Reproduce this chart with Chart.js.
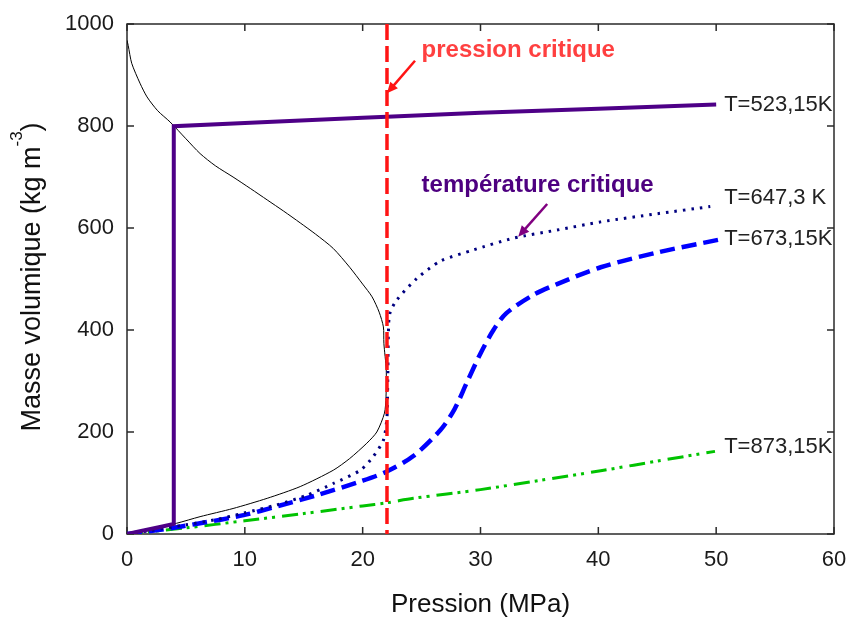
<!DOCTYPE html>
<html>
<head>
<meta charset="utf-8">
<title>Masse volumique de l'eau</title>
<script src="https://cdn.jsdelivr.net/npm/chart.js@4.4.1/dist/chart.umd.min.js"></script>
<style>
  html, body { margin: 0; padding: 0; background: #fff; }
  #wrap { width: 846px; height: 619px; position: relative; }
</style>
</head>
<body>
<div id="wrap"><canvas id="rho-chart"></canvas></div>
<script>
// pression critique (MPa)
const pCritique = 22.064;
const critiqueLine = [[pCritique, 1000], [pCritique, 0]];

// courbe de saturation : branche liquide puis branche vapeur [P (MPa), rho (kg/m3)]
const saturation = [
  [0.0, 968], [0.1, 958], [0.4, 923], [1.1, 884], [1.7, 857], [2.6, 830], [3.65, 808],
  [5.0, 775], [6.2, 746], [7.5, 722], [9.0, 700], [10.5, 677], [11.9, 655], [13.3, 633],
  [14.7, 610], [16.0, 588], [17.5, 560], [18.9, 523], [20.0, 490], [20.8, 465], [21.4, 435],
  [21.76, 406], [21.8, 374], [22.0, 322], [21.98, 269], [21.85, 237], [21.2, 200],
  [20.35, 178], [18.9, 148], [17.5, 125], [14.7, 93], [11.9, 70], [9.0, 50], [6.2, 34],
  [4.2, 21], [2.0, 10], [0.0, 0]
];

// isothermes
const t523 = [
  [0, 0], [1, 4.8], [2, 9.7], [3, 14.7], [3.97, 19.9], [3.97, 799.5], [10, 806],
  [20, 816], [22.06, 818], [30, 826], [40, 834], [50, 842]
];
const t647 = [
  [0, 0], [2, 6.8], [5, 18], [7.5, 28], [9.9, 41], [12.7, 57], [15.25, 76], [17.5, 99],
  [19.8, 125], [20.9, 152], [21.76, 184], [22.05, 225], [22.1, 260], [22.14, 320],
  [22.18, 390], [22.3, 432], [22.9, 459], [24.6, 501], [26.6, 535], [29.4, 557],
  [32.8, 580], [36.5, 596], [40.2, 612], [45, 628], [49.5, 642]
];
const t673 = [
  [0, 0], [3, 9], [6.2, 21], [9.9, 37], [12.7, 54], [16.1, 76], [19.8, 103], [22.0, 122],
  [24.3, 153], [26.6, 204], [27.8, 245], [28.8, 295], [30.0, 354], [31.1, 400], [32.2, 433],
  [34.5, 469], [36.5, 490], [40.2, 523], [45.0, 552], [50.2, 577]
];
const t873 = [
  [0, 0], [5, 12], [10, 26], [15, 40], [20, 55], [22, 61], [24.3, 70], [30, 87],
  [35, 105], [40.2, 124], [43, 135], [45, 143], [49.9, 162]
];

const seriesLabels = ['T=523,15K', 'T=647,3 K', 'T=673,15K', 'T=873,15K'];
const xTicks = [0, 10, 20, 30, 40, 50, 60];
const yTicks = [0, 200, 400, 600, 800, 1000];

const pts = arr => arr.map(([x, y]) => ({ x, y }));
Chart.defaults.font.family = "'Liberation Sans', Arial, sans-serif";

// cadre + graduations tournées vers l'intérieur
const framePlugin = {
  id: 'frame',
  beforeDatasetsDraw(chart) {
    const { ctx, chartArea: a, scales: { x, y } } = chart;
    ctx.save();
    ctx.strokeStyle = '#2a2a2a';
    ctx.lineWidth = 1.5;
    ctx.strokeRect(a.left, a.top, a.right - a.left, a.bottom - a.top);
    ctx.beginPath();
    xTicks.forEach(v => {
      const px = x.getPixelForValue(v);
      ctx.moveTo(px, a.bottom); ctx.lineTo(px, a.bottom - 7);
      ctx.moveTo(px, a.top); ctx.lineTo(px, a.top + 7);
    });
    yTicks.forEach(v => {
      const py = y.getPixelForValue(v);
      ctx.moveTo(a.left, py); ctx.lineTo(a.left + 7, py);
      ctx.moveTo(a.right, py); ctx.lineTo(a.right - 7, py);
    });
    ctx.stroke();
    ctx.restore();
  }
};

function arrow(ctx, x0, y0, x1, y1, color) {
  const ang = Math.atan2(y1 - y0, x1 - x0);
  const len = 11, half = 5;
  ctx.strokeStyle = color;
  ctx.fillStyle = color;
  ctx.lineWidth = 2.5;
  ctx.beginPath();
  ctx.moveTo(x0, y0);
  ctx.lineTo(x1 - Math.cos(ang) * len * 0.8, y1 - Math.sin(ang) * len * 0.8);
  ctx.stroke();
  ctx.beginPath();
  ctx.moveTo(x1, y1);
  ctx.lineTo(x1 - Math.cos(ang) * len - Math.sin(ang) * half, y1 - Math.sin(ang) * len + Math.cos(ang) * half);
  ctx.lineTo(x1 - Math.cos(ang) * len + Math.sin(ang) * half, y1 - Math.sin(ang) * len - Math.cos(ang) * half);
  ctx.closePath();
  ctx.fill();
}

// textes, flèches, étiquettes des isothermes, titre de l'axe y
const notesPlugin = {
  id: 'notes',
  afterDraw(chart) {
    const { ctx, scales: { x, y } } = chart;
    const X = v => x.getPixelForValue(v), Y = v => y.getPixelForValue(v);
    ctx.save();
    ctx.textBaseline = 'middle';
    ctx.textAlign = 'left';

    ctx.font = "bold 24px 'Liberation Sans', Arial, sans-serif";
    ctx.fillStyle = 'rgb(255,64,64)';
    ctx.fillText('pression critique', X(25.0), Y(949));
    arrow(ctx, X(24.44), Y(928), X(22.06), Y(864), 'rgb(255,20,20)');

    ctx.fillStyle = 'rgb(78,0,128)';
    ctx.fillText('température critique', X(25.0), Y(684));
    arrow(ctx, X(35.66), Y(647), X(33.2), Y(583), 'rgb(128,0,128)');

    ctx.font = "22px 'Liberation Sans', Arial, sans-serif";
    ctx.fillStyle = '#222';
    const ends = [t523, t647, t673, t873];
    const dy = [0, -9, -1, -4];
    ends.forEach((s, i) => {
      const last = s[s.length - 1];
      ctx.fillText(seriesLabels[i], X(50) + 8, Y(last[1]) + dy[i]);
    });

    // titre de l'axe y avec exposant
    ctx.translate(40, 277);
    ctx.rotate(-Math.PI / 2);
    ctx.fillStyle = '#111';
    ctx.textBaseline = 'alphabetic';
    const main = 'Masse volumique (kg m', sup = '-3', close = ')';
    ctx.font = "27px 'Liberation Sans', Arial, sans-serif";
    const wMain = ctx.measureText(main).width, wClose = ctx.measureText(close).width;
    ctx.font = "17px 'Liberation Sans', Arial, sans-serif";
    const wSup = ctx.measureText(sup).width;
    let cx = -(wMain + wSup + wClose) / 2;
    ctx.font = "27px 'Liberation Sans', Arial, sans-serif";
    ctx.fillText(main, cx, 0);
    cx += wMain;
    ctx.font = "17px 'Liberation Sans', Arial, sans-serif";
    ctx.fillText(sup, cx, -18);
    cx += wSup;
    ctx.font = "27px 'Liberation Sans', Arial, sans-serif";
    ctx.fillText(close, cx, 0);
    ctx.restore();
  }
};

const line = (data, color, width, dash, tension) => ({
  data: pts(data),
  showLine: true,
  borderColor: color,
  backgroundColor: color,
  borderWidth: width,
  borderDash: dash || [],
  pointRadius: 0,
  tension: tension || 0,
  fill: false
});

new Chart(document.getElementById('rho-chart'), {
  type: 'scatter',
  data: {
    datasets: [
      line(critiqueLine, 'rgb(255,20,20)', 3.5, [16, 6]),
      line(t523, 'rgb(78,0,135)', 4),
      line(t647, 'rgb(0,0,128)', 3, [2.5, 6], 0.25),
      line(t673, 'rgb(0,0,255)', 4.5, [15, 7], 0.3),
      line(t873, 'rgb(0,195,0)', 3, [16, 5, 3, 5, 3, 7], 0.3),
      line(saturation, '#000', 1, null, 0.25)
    ]
  },
  options: {
    responsive: true,
    maintainAspectRatio: false,
    animation: false,
    layout: { padding: { top: 24, right: 12, bottom: 0, left: 0 } },
    plugins: { legend: { display: false }, tooltip: { enabled: false } },
    scales: {
      x: {
        type: 'linear', min: 0, max: 60,
        afterBuildTicks: s => { s.ticks = xTicks.map(v => ({ value: v })); },
        afterFit: s => { s.height = 85; s.paddingLeft = 0; s.paddingRight = 0; },
        grid: { display: false, drawTicks: false },
        border: { display: false },
        ticks: { padding: 13, color: '#1a1a1a', font: { size: 22 }, maxRotation: 0, callback: v => String(v) },
        title: {
          display: true, text: 'Pression (MPa)', color: '#111',
          font: { size: 26, lineHeight: 1 }, padding: { top: 0, bottom: 1 }
        }
      },
      y: {
        type: 'linear', min: 0, max: 1000,
        afterBuildTicks: s => { s.ticks = yTicks.map(v => ({ value: v })); },
        afterFit: s => { s.width = 127; s.paddingTop = 0; s.paddingBottom = 0; },
        grid: { display: false, drawTicks: false },
        border: { display: false },
        ticks: { padding: 13, color: '#1a1a1a', font: { size: 22 }, callback: v => String(v) }
      }
    }
  },
  plugins: [framePlugin, notesPlugin]
});
</script>
</body>
</html>
